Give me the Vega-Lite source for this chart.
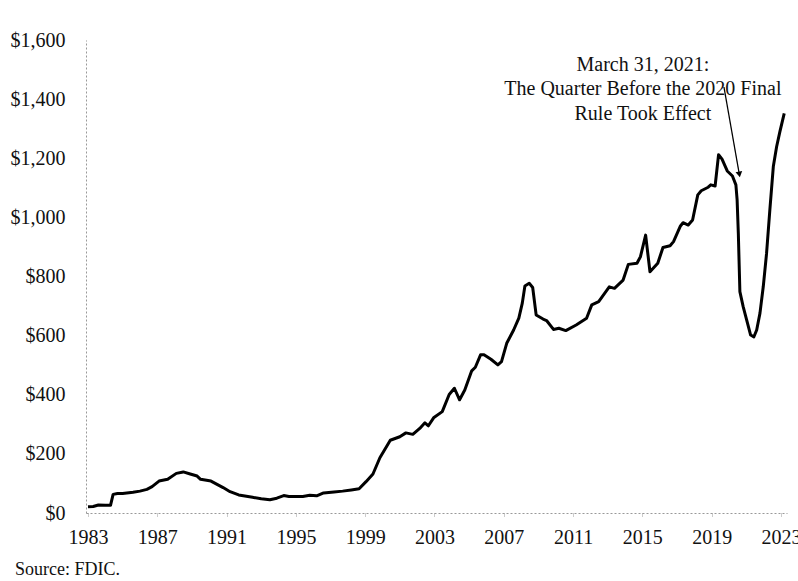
{
  "$schema": "https://vega.github.io/schema/vega-lite/v6.json",
  "width": 701,
  "height": 473,
  "autosize": {"type": "none"},
  "padding": {"left": 86, "top": 40, "right": 11, "bottom": 68},
  "background": "white",
  "config": {
    "view": {"stroke": null},
    "font": "Liberation Serif",
    "axis": {"labelFont": "Liberation Serif", "labelFontSize": 20, "labelColor": "#111", "grid": false, "domainColor": "#999", "domainDash": [2, 2], "domainWidth": 1, "tickColor": "#999", "tickDash": [1, 1]}
  },
  "title": {"text": "Source: FDIC.", "orient": "bottom", "anchor": "start", "frame": "bounds", "font": "Liberation Serif", "fontSize": 18, "fontWeight": "normal", "color": "#111", "offset": 14, "dx": 5},
  "datasets": {
    "series": [
      {"year": 1983.0, "value": 21}, {"year": 1983.3, "value": 22}, {"year": 1983.6, "value": 27},
      {"year": 1984.0, "value": 26}, {"year": 1984.3, "value": 26}, {"year": 1984.45, "value": 63},
      {"year": 1984.7, "value": 66}, {"year": 1985.0, "value": 66}, {"year": 1985.6, "value": 70},
      {"year": 1986.0, "value": 74}, {"year": 1986.4, "value": 80}, {"year": 1986.7, "value": 89},
      {"year": 1987.1, "value": 108}, {"year": 1987.6, "value": 114}, {"year": 1988.1, "value": 134},
      {"year": 1988.5, "value": 139}, {"year": 1988.9, "value": 132}, {"year": 1989.3, "value": 125},
      {"year": 1989.5, "value": 114}, {"year": 1990.1, "value": 108}, {"year": 1990.8, "value": 86},
      {"year": 1991.2, "value": 72}, {"year": 1991.7, "value": 61}, {"year": 1992.5, "value": 53},
      {"year": 1993.0, "value": 48}, {"year": 1993.5, "value": 45}, {"year": 1993.9, "value": 50},
      {"year": 1994.3, "value": 59}, {"year": 1994.6, "value": 56}, {"year": 1995.4, "value": 56},
      {"year": 1995.8, "value": 60}, {"year": 1996.2, "value": 58}, {"year": 1996.6, "value": 68},
      {"year": 1997.2, "value": 71}, {"year": 1997.7, "value": 74}, {"year": 1998.2, "value": 78},
      {"year": 1998.65, "value": 82}, {"year": 1999.05, "value": 106}, {"year": 1999.45, "value": 132},
      {"year": 1999.85, "value": 187}, {"year": 2000.45, "value": 246}, {"year": 2001.0, "value": 258},
      {"year": 2001.35, "value": 271}, {"year": 2001.75, "value": 266}, {"year": 2002.15, "value": 286},
      {"year": 2002.45, "value": 305}, {"year": 2002.65, "value": 295}, {"year": 2002.95, "value": 322},
      {"year": 2003.45, "value": 343}, {"year": 2003.85, "value": 401}, {"year": 2004.15, "value": 422},
      {"year": 2004.45, "value": 383}, {"year": 2004.75, "value": 416}, {"year": 2005.15, "value": 481},
      {"year": 2005.36, "value": 493}, {"year": 2005.66, "value": 535}, {"year": 2005.86, "value": 535},
      {"year": 2006.26, "value": 520}, {"year": 2006.66, "value": 501}, {"year": 2006.87, "value": 512},
      {"year": 2007.17, "value": 574}, {"year": 2007.57, "value": 619}, {"year": 2007.87, "value": 659},
      {"year": 2008.07, "value": 710}, {"year": 2008.22, "value": 768}, {"year": 2008.47, "value": 777},
      {"year": 2008.67, "value": 763}, {"year": 2008.87, "value": 670}, {"year": 2009.27, "value": 656},
      {"year": 2009.47, "value": 651}, {"year": 2009.87, "value": 621}, {"year": 2010.18, "value": 625},
      {"year": 2010.58, "value": 617}, {"year": 2011.18, "value": 636}, {"year": 2011.78, "value": 659},
      {"year": 2012.08, "value": 704}, {"year": 2012.48, "value": 715}, {"year": 2013.09, "value": 765},
      {"year": 2013.39, "value": 760}, {"year": 2013.89, "value": 788}, {"year": 2014.19, "value": 841},
      {"year": 2014.69, "value": 845}, {"year": 2014.89, "value": 867}, {"year": 2015.19, "value": 940},
      {"year": 2015.44, "value": 816}, {"year": 2015.89, "value": 845}, {"year": 2016.19, "value": 898},
      {"year": 2016.6, "value": 904}, {"year": 2016.8, "value": 918}, {"year": 2017.2, "value": 971},
      {"year": 2017.35, "value": 982}, {"year": 2017.65, "value": 974}, {"year": 2017.9, "value": 991},
      {"year": 2018.2, "value": 1076}, {"year": 2018.4, "value": 1090}, {"year": 2018.8, "value": 1102},
      {"year": 2018.95, "value": 1110}, {"year": 2019.2, "value": 1106}, {"year": 2019.4, "value": 1212},
      {"year": 2019.6, "value": 1197}, {"year": 2019.9, "value": 1157}, {"year": 2020.2, "value": 1140},
      {"year": 2020.4, "value": 1110}, {"year": 2020.47, "value": 1060}, {"year": 2020.54, "value": 947},
      {"year": 2020.63, "value": 749}, {"year": 2020.82, "value": 698}, {"year": 2021.02, "value": 653},
      {"year": 2021.25, "value": 602}, {"year": 2021.44, "value": 596}, {"year": 2021.6, "value": 619},
      {"year": 2021.79, "value": 676}, {"year": 2021.98, "value": 766}, {"year": 2022.17, "value": 878},
      {"year": 2022.36, "value": 1025}, {"year": 2022.56, "value": 1172}, {"year": 2022.75, "value": 1239},
      {"year": 2022.94, "value": 1290}, {"year": 2023.19, "value": 1352}
    ],
    "arrow": [{"x": 2019.71, "y": 1441, "x2": 2020.6, "y2": 1145}],
    "note": [{"x": 2015.03, "y": 1516, "label": "March 31, 2021:\nThe Quarter Before the 2020 Final\nRule Took Effect"}]
  },
  "layer": [
    {
      "data": {"name": "series"},
      "mark": {"type": "line", "color": "black", "strokeWidth": 3, "strokeJoin": "round"},
      "encoding": {
        "x": {"field": "year", "type": "quantitative", "scale": {"domain": [1982.885, 2023.35], "nice": false, "zero": false},
              "axis": {"title": null, "values": [1983, 1987, 1991, 1995, 1999, 2003, 2007, 2011, 2015, 2019, 2023], "format": "d", "tickSize": 4, "labelPadding": 10}},
        "y": {"field": "value", "type": "quantitative", "scale": {"domain": [0, 1600], "nice": false},
              "axis": {"title": null, "values": [0, 200, 400, 600, 800, 1000, 1200, 1400, 1600], "format": "$,.0f", "ticks": false, "labelPadding": 21}}
      }
    },
    {
      "data": {"name": "arrow"},
      "mark": {"type": "rule", "color": "black", "strokeWidth": 1.3},
      "encoding": {
        "x": {"field": "x", "type": "quantitative"},
        "y": {"field": "y", "type": "quantitative"},
        "x2": {"field": "x2"},
        "y2": {"field": "y2"}
      }
    },
    {
      "data": {"name": "arrow"},
      "mark": {"type": "point", "shape": "triangle-down", "filled": true, "color": "black", "size": 45, "angle": -10, "opacity": 1},
      "encoding": {
        "x": {"field": "x2", "type": "quantitative"},
        "y": {"field": "y2", "type": "quantitative"}
      }
    },
    {
      "data": {"name": "note"},
      "mark": {"type": "text", "font": "Liberation Serif", "fontSize": 20, "align": "center", "baseline": "middle", "lineBreak": "\n", "lineHeight": 24.5, "color": "#111"},
      "encoding": {
        "x": {"field": "x", "type": "quantitative"},
        "y": {"field": "y", "type": "quantitative"},
        "text": {"field": "label"}
      }
    }
  ]
}
